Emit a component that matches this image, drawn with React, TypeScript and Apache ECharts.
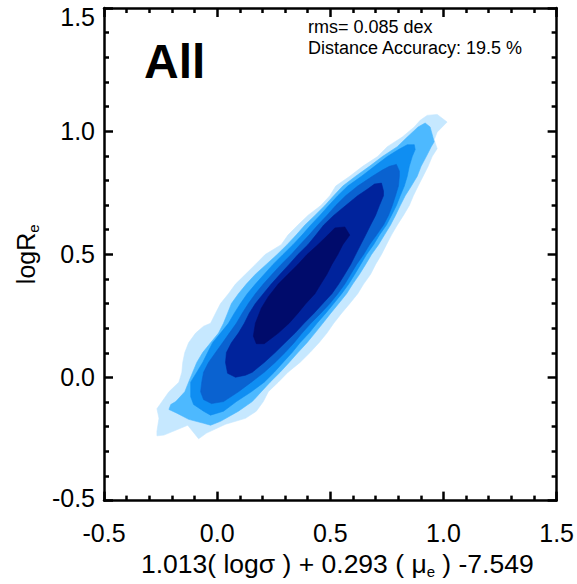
import React, { useEffect, useRef } from "react";
import * as echarts from "echarts";

// Tick values on both axes
const xTickValues = [-0.5, 0.0, 0.5, 1.0, 1.5];
const yTickValues = [-0.5, 0.0, 0.5, 1.0, 1.5];

// Filled-contour levels (outermost to innermost), as [x, y] data points
const levelPale: number[][] = [
  [0.972, 1.068], [1.016, 1.037], [0.972, 0.996], [0.959, 0.965], [0.972, 0.929], [0.95, 0.897],
  [0.932, 0.857], [0.91, 0.817], [0.888, 0.777], [0.867, 0.738], [0.849, 0.698], [0.823, 0.658],
  [0.796, 0.619], [0.77, 0.578], [0.748, 0.539], [0.726, 0.499], [0.7, 0.459], [0.678, 0.419],
  [0.647, 0.379], [0.621, 0.34], [0.586, 0.3], [0.55, 0.261], [0.515, 0.22], [0.485, 0.18],
  [0.45, 0.141], [0.41, 0.101], [0.366, 0.061], [0.313, 0.021], [0.27, -0.019], [0.226, -0.058],
  [0.204, -0.098], [0.173, -0.137], [0.125, -0.166], [0.037, -0.19], [-0.047, -0.226], [-0.082, -0.249],
  [-0.13, -0.194], [-0.235, -0.234], [-0.266, -0.237], [-0.266, -0.218], [-0.257, -0.166], [-0.266, -0.127],
  [-0.213, -0.058], [-0.169, -0.019], [-0.156, 0.021], [-0.152, 0.061], [-0.143, 0.101], [-0.126, 0.141],
  [-0.095, 0.18], [-0.06, 0.208], [-0.029, 0.22], [-0.007, 0.261], [0.015, 0.3], [0.05, 0.34],
  [0.081, 0.379], [0.125, 0.419], [0.169, 0.459], [0.212, 0.499], [0.283, 0.539], [0.313, 0.578],
  [0.357, 0.619], [0.401, 0.658], [0.458, 0.698], [0.498, 0.738], [0.524, 0.777], [0.586, 0.817],
  [0.643, 0.857], [0.709, 0.897], [0.752, 0.937], [0.818, 0.976], [0.871, 1.017], [0.897, 1.044],
  [0.928, 1.064],
];
const levelSky: number[][] = [
  [0.919, 1.033], [0.941, 1.017], [0.959, 0.957], [0.946, 0.937], [0.924, 0.897], [0.901, 0.857],
  [0.884, 0.817], [0.858, 0.777], [0.831, 0.738], [0.809, 0.698], [0.788, 0.658], [0.766, 0.619],
  [0.739, 0.578], [0.713, 0.539], [0.682, 0.499], [0.656, 0.459], [0.629, 0.419], [0.599, 0.379],
  [0.572, 0.34], [0.537, 0.3], [0.502, 0.261], [0.467, 0.22], [0.432, 0.18], [0.397, 0.141],
  [0.357, 0.101], [0.318, 0.061], [0.278, 0.021], [0.234, -0.019], [0.195, -0.058], [0.155, -0.098],
  [0.094, -0.137], [0.015, -0.178], [-0.029, -0.194], [-0.06, -0.186], [-0.126, -0.17], [-0.178, -0.145],
  [-0.213, -0.13], [-0.205, -0.11], [-0.183, -0.098], [-0.143, -0.058], [-0.126, -0.019], [-0.108, 0.021],
  [-0.09, 0.061], [-0.064, 0.101], [-0.029, 0.141], [0.006, 0.18], [0.028, 0.22], [0.046, 0.261],
  [0.063, 0.3], [0.094, 0.34], [0.129, 0.379], [0.169, 0.419], [0.217, 0.459], [0.265, 0.499],
  [0.309, 0.539], [0.349, 0.578], [0.388, 0.619], [0.432, 0.658], [0.476, 0.698], [0.515, 0.738],
  [0.555, 0.777], [0.612, 0.817], [0.673, 0.857], [0.73, 0.897], [0.796, 0.937], [0.84, 0.976],
  [0.888, 1.017],
];
const levelBright: number[][] = [
  [0.84, 0.945], [0.871, 0.945], [0.875, 0.925], [0.862, 0.897], [0.849, 0.857], [0.84, 0.817],
  [0.827, 0.777], [0.809, 0.738], [0.792, 0.698], [0.77, 0.658], [0.748, 0.619], [0.717, 0.578],
  [0.691, 0.539], [0.66, 0.499], [0.634, 0.459], [0.608, 0.419], [0.581, 0.379], [0.55, 0.34],
  [0.515, 0.3], [0.48, 0.261], [0.441, 0.22], [0.406, 0.18], [0.366, 0.141], [0.331, 0.101],
  [0.291, 0.061], [0.252, 0.021], [0.208, -0.019], [0.151, -0.058], [0.085, -0.098], [0.028, -0.137],
  [-0.029, -0.153], [-0.06, -0.137], [-0.104, -0.11], [-0.117, -0.078], [-0.117, -0.019], [-0.09, 0.021],
  [-0.064, 0.061], [-0.042, 0.101], [-0.02, 0.141], [0.015, 0.18], [0.05, 0.22], [0.076, 0.261],
  [0.103, 0.3], [0.133, 0.34], [0.169, 0.379], [0.208, 0.419], [0.247, 0.459], [0.291, 0.499],
  [0.335, 0.539], [0.375, 0.578], [0.414, 0.619], [0.454, 0.658], [0.493, 0.698], [0.533, 0.738],
  [0.577, 0.777], [0.638, 0.817], [0.695, 0.857], [0.752, 0.897], [0.801, 0.925],
];
const levelMedium: number[][] = [
  [0.761, 0.857], [0.792, 0.865], [0.805, 0.838], [0.805, 0.817], [0.801, 0.777], [0.788, 0.738],
  [0.774, 0.698], [0.757, 0.658], [0.735, 0.619], [0.704, 0.578], [0.673, 0.539], [0.647, 0.499],
  [0.616, 0.459], [0.59, 0.419], [0.564, 0.379], [0.533, 0.34], [0.498, 0.3], [0.458, 0.261],
  [0.414, 0.22], [0.375, 0.18], [0.34, 0.141], [0.3, 0.101], [0.256, 0.061], [0.208, 0.021],
  [0.151, -0.019], [0.094, -0.058], [0.028, -0.098], [-0.025, -0.106], [-0.06, -0.09], [-0.073, -0.058],
  [-0.068, -0.019], [-0.06, 0.021], [-0.038, 0.061], [-0.007, 0.101], [0.024, 0.141], [0.054, 0.18],
  [0.085, 0.22], [0.111, 0.261], [0.138, 0.3], [0.169, 0.34], [0.204, 0.379], [0.243, 0.419],
  [0.283, 0.459], [0.327, 0.499], [0.366, 0.539], [0.406, 0.578], [0.445, 0.619], [0.485, 0.658],
  [0.524, 0.698], [0.568, 0.738], [0.621, 0.777], [0.686, 0.817], [0.73, 0.842],
];
const levelDark: number[][] = [
  [0.695, 0.785], [0.726, 0.789], [0.735, 0.757], [0.735, 0.738], [0.717, 0.698], [0.7, 0.658],
  [0.678, 0.619], [0.656, 0.578], [0.634, 0.539], [0.612, 0.499], [0.59, 0.459], [0.564, 0.419],
  [0.537, 0.379], [0.507, 0.34], [0.467, 0.3], [0.428, 0.261], [0.384, 0.22], [0.344, 0.18],
  [0.3, 0.141], [0.256, 0.101], [0.208, 0.061], [0.155, 0.021], [0.125, 0.009], [0.081, 0.001],
  [0.046, 0.017], [0.037, 0.061], [0.041, 0.101], [0.063, 0.141], [0.094, 0.18], [0.12, 0.22],
  [0.142, 0.261], [0.169, 0.3], [0.204, 0.34], [0.239, 0.379], [0.278, 0.419], [0.318, 0.459],
  [0.357, 0.499], [0.401, 0.539], [0.436, 0.578], [0.471, 0.619], [0.515, 0.658], [0.568, 0.698],
  [0.621, 0.738], [0.665, 0.765],
];
const levelNavy: number[][] = [
  [0.52, 0.607], [0.564, 0.611], [0.586, 0.578], [0.555, 0.539], [0.533, 0.499], [0.507, 0.459],
  [0.485, 0.419], [0.458, 0.379], [0.432, 0.34], [0.392, 0.3], [0.357, 0.261], [0.318, 0.22],
  [0.27, 0.18], [0.208, 0.137], [0.173, 0.137], [0.16, 0.168], [0.169, 0.22], [0.195, 0.281],
  [0.226, 0.328], [0.27, 0.379], [0.313, 0.419], [0.357, 0.459], [0.397, 0.499], [0.445, 0.539],
  [0.489, 0.578],
];

const levels = [levelPale, levelSky, levelBright, levelMedium, levelDark, levelNavy];
const levelColors = ["#c6e8ff", "#4db9ff", "#0f8ef2", "#0a62d0", "#00239c", "#000b6b"];

const FONT = "'Liberation Sans', Arial, Helvetica, sans-serif";

export default function App() {
  const ref = useRef<HTMLDivElement>(null);
  useEffect(() => {
    if (!ref.current) return;
    const chart = echarts.init(ref.current, null, { renderer: "svg" });

    const tickFmt = (v: number) => v.toFixed(1);
    const yFmt = (v: number) => {
      const s = v.toFixed(1);
      if (Math.abs(v - 1.5) < 1e-9) return "{t|" + s + "}";
      if (Math.abs(v + 0.5) < 1e-9) return "{b|" + s + "}";
      return s;
    };

    const axisCommon = {
      type: "value" as const,
      interval: 0.5,
      axisLine: { show: true, onZero: false, lineStyle: { color: "#000", width: 2.5 } },
      axisTick: { show: true, inside: true, length: 9, lineStyle: { color: "#000", width: 2.5 } },
      minorTick: { show: true, splitNumber: 5, length: 5, lineStyle: { color: "#000", width: 2.5 } },
      splitLine: { show: false },
      minorSplitLine: { show: false },
    };

    const series = levels.map((poly, li) => ({
      type: "custom" as const,
      coordinateSystem: "cartesian2d",
      xAxisIndex: 0,
      yAxisIndex: 0,
      clip: true,
      silent: true,
      z: 2 + li,
      data: [[0, 0]],
      renderItem: (_params: any, api: any) => {
        const pts = poly.map((p) => api.coord(p));
        return {
          type: "polygon",
          shape: { points: pts },
          style: { fill: levelColors[li], stroke: levelColors[li], lineWidth: 0.6 },
        };
      },
    }));

    chart.setOption({
      animation: false,
      backgroundColor: "#fff",
      textStyle: { fontFamily: FONT },
      grid: { left: 104, right: 16, top: 8, bottom: 73.5, containLabel: false },
      xAxis: [
        {
          ...axisCommon,
          min: xTickValues[0],
          max: xTickValues[xTickValues.length - 1],
          position: "bottom",
          axisLabel: { show: true, margin: 20, fontSize: 25, color: "#000", fontFamily: FONT, formatter: tickFmt },
          name: "{a|1.013( log\u03c3 ) + 0.293 ( \u03bc}{s|e}{a| ) -7.549}",
          nameLocation: "middle",
          nameGap: 40,
          nameTextStyle: {
            color: "#000",
            fontFamily: FONT,
            padding: [0, 0, 0, 14],
            rich: {
              a: { fontSize: 26.5, lineHeight: 30, color: "#000", fontFamily: FONT },
              s: { fontSize: 15, lineHeight: 16, color: "#000", fontFamily: FONT, verticalAlign: "bottom" },
            },
          },
        },
        {
          ...axisCommon,
          min: xTickValues[0],
          max: xTickValues[xTickValues.length - 1],
          position: "top",
          axisLabel: { show: false },
        },
      ],
      yAxis: [
        {
          ...axisCommon,
          min: yTickValues[0],
          max: yTickValues[yTickValues.length - 1],
          position: "left",
          axisLabel: {
            show: true,
            margin: 9,
            fontSize: 25,
            color: "#000",
            fontFamily: FONT,
            formatter: yFmt,
            rich: {
              t: { fontSize: 25, color: "#000", fontFamily: FONT, padding: [17, 0, 0, 0] },
              b: { fontSize: 25, color: "#000", fontFamily: FONT, padding: [0, 0, 6, 0] },
            },
          },
          name: "{a|logR}{s|e}",
          nameLocation: "middle",
          nameGap: 63,
          nameRotate: 90,
          nameTextStyle: {
            color: "#000",
            fontFamily: FONT,
            rich: {
              a: { fontSize: 25, lineHeight: 30, color: "#000", fontFamily: FONT },
              s: { fontSize: 15, lineHeight: 16, color: "#000", fontFamily: FONT, verticalAlign: "bottom" },
            },
          },
        },
        {
          ...axisCommon,
          min: yTickValues[0],
          max: yTickValues[yTickValues.length - 1],
          position: "right",
          axisLabel: { show: false },
        },
      ],
      graphic: [
        {
          type: "text",
          x: 144,
          y: 61,
          z: 100,
          style: { text: "All", fontSize: 48, fontWeight: "bold", fontFamily: FONT, fill: "#000", verticalAlign: "middle" },
        },
        {
          type: "text",
          x: 308,
          y: 27,
          z: 100,
          style: { text: "rms= 0.085 dex", fontSize: 18, fontFamily: FONT, fill: "#000", verticalAlign: "middle" },
        },
        {
          type: "text",
          x: 308,
          y: 48,
          z: 100,
          style: { text: "Distance Accuracy: 19.5 %", fontSize: 18, fontFamily: FONT, fill: "#000", verticalAlign: "middle" },
        },
      ],
      series,
    });
    return () => chart.dispose();
  }, []);

  return (
    <div
      ref={ref}
      style={{ position: "fixed", left: 0, top: 0, width: 577, height: 584, background: "#fff" }}
    />
  );
}
